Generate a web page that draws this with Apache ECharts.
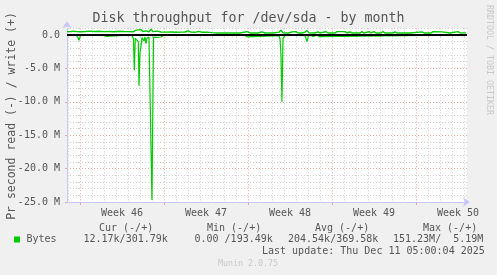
<!DOCTYPE html>
<html>
<head>
<meta charset="utf-8">
<script src="https://cdn.jsdelivr.net/npm/echarts@6/dist/echarts.min.js"></script>
<style>
html,body{margin:0;padding:0;background:#F0F0F0;}
#chart{width:497px;height:275px;}
</style>
</head>
<body>
<div id="chart"></div>
<script>
// x values: days since Monday 2025-11-10 00:00 (start of Week 46); y values in millions of bytes/s
const writeDays = [-1.08,-0.75,-0.50,-0.25,0.08,0.50,0.83,1.17,1.58,2.00,2.42,2.83,3.25,3.67,4.08,4.42,4.67,4.83,5.08,5.25,5.50,5.75,5.92,6.08,6.42,6.75,7.17,7.58,8.00,8.42,8.75,9.00,9.25,9.58,9.92,10.17,10.58,11.00,11.42,12.08,12.67,13.33,13.92,14.17,14.83,15.17,15.42,16.08,16.58,16.75,16.92,17.33,17.67,17.83,18.00,18.17,18.33,18.50,18.75,18.92,19.08,19.58,19.83,20.00,20.50,20.67,21.25,21.42,21.58,22.08,22.25,22.50,22.67,23.33,23.50,23.67,24.08,24.25,24.50,24.67,25.08,25.25,25.42,26.08,26.25,26.42,27.50,28.50,28.67,29.25,29.42,29.58,30.17,30.33,30.83,31.50,31.67,32.17];
const writeVals = [0.50,0.52,0.58,0.50,0.48,0.52,0.58,0.52,0.55,0.50,0.52,0.48,0.55,0.52,0.50,0.48,0.72,0.50,0.80,0.52,0.62,0.48,0.85,0.50,0.58,0.45,0.42,0.45,0.40,0.42,0.45,0.62,0.42,0.40,0.55,0.40,0.42,0.35,0.30,0.30,0.32,0.30,0.50,0.30,0.30,0.47,0.30,0.30,0.42,0.70,0.32,0.30,0.47,0.30,0.50,0.30,0.47,0.30,0.42,0.65,0.32,0.30,0.47,0.30,0.50,0.30,0.30,0.50,0.30,0.50,0.30,0.47,0.30,0.30,0.50,0.30,0.50,0.30,0.50,0.30,0.30,0.50,0.30,0.30,0.47,0.30,0.30,0.47,0.30,0.30,0.50,0.30,0.47,0.30,0.30,0.50,0.32,0.32];
const readDays = [-1.08,-0.33,-0.17,-0.08,0.04,0.33,2.00,2.17,2.33,4.33,4.46,4.53,4.61,4.75,4.86,4.92,5.00,5.08,5.17,5.25,5.33,5.42,5.50,5.58,5.75,5.88,6.00,6.13,6.25,6.42,6.58,6.75,6.92,7.50,10.42,10.58,10.75,13.75,13.92,14.08,16.58,16.67,16.75,16.83,16.92,17.08,17.25,17.33,17.46,18.75,18.83,18.92,19.04,19.25,19.42,19.58,19.75,19.92,20.08,32.17];
const readVals = [0,0,-0.35,-0.80,-0.10,0,0,-0.20,0,0,-0.60,-5.30,-0.50,-0.30,-1.00,-7.60,-2.60,-1.80,-0.40,-0.30,-0.90,-0.30,-1.30,-0.50,-0.30,-0.25,-24.70,-0.30,-0.20,-0.35,-0.15,-0.30,-0.10,0,0,-0.25,0,0,-0.28,0,-0.10,-0.60,-3.00,-10.00,-0.50,-0.10,0,-0.25,0,-0.10,-0.30,-1.00,-0.10,0,-0.25,0,0,-0.25,0,0];

const weekLabels = ['Week 46','Week 47','Week 48','Week 49','Week 50'];
const weekLabelPos = [3.5,10.5,17.5,24.5,31.5];
const weekStarts = [0,7,14,21,28];
const yLabelVals = [-25,-20,-15,-10,-5,0];

const legendHeaders = ['Cur (-/+)','Min (-/+)','Avg (-/+)','Max (-/+)'];
const legendValues = ['12.17k/301.79k','0.00 /193.49k','204.54k/369.58k','151.23M/  5.19M'];
const seriesName = 'Bytes';
const titleText = 'Disk throughput for /dev/sda - by month';
const yName = 'Pr second read (-) / write (+)';
const lastUpdate = 'Last update: Thu Dec 11 05:00:04 2025';
const footer = 'Munin 2.0.75';
const sideText = 'RRDTOOL / TOBI OETIKER';

const X_MIN = -1.08, X_MAX = 32.25, Y_MIN = -25, Y_MAX = 1;
const dayLines = [];
for (let d = -1; d <= 32; d++) if (d % 7 !== 0) dayLines.push(d);
const minorY = [];
for (let v = -24; v <= 1; v++) if (v % 5 !== 0) minorY.push(v);

const FONT = 'DejaVu Sans Mono';
const TXT = '#555555';
const GREEN = '#00CC00';
const AXIS = '#C8C8F8';
const RED = '#E8A8A8';
const GRAY = '#CFCFCF';

const chart = echarts.init(document.getElementById('chart'), null, {renderer:'canvas'});
const grid = {left:67, top:28.3, width:400, height:173.7, backgroundColor:'#FFFFFF', show:true, borderWidth:0,
  containLabel:false, outerBoundsMode:'none'};

function txt(x, y, s, extra) {
  return Object.assign({ type:'text', x:x, y:y, z:20,
    style:{text:s, font:'10px "' + FONT + '"', fill:TXT, textVerticalAlign:'middle'} }, extra || {});
}

const option = {
  backgroundColor:'#F0F0F0',
  animation:false,
  grid: grid,
  xAxis: [
    { type:'value', min:X_MIN, max:X_MAX, gridIndex:0, position:'bottom', z:1,
      axisLine:{show:false}, axisLabel:{show:false},
      axisTick:{show:true, customValues:dayLines, length:2, lineStyle:{color:GRAY}},
      splitLine:{show:true, lineStyle:{color:GRAY, type:[1,2], width:1}} },
    { type:'value', min:X_MIN, max:X_MAX, gridIndex:0, position:'bottom', z:2,
      axisLine:{show:true, onZero:false, lineStyle:{color:AXIS, width:1}, symbol:['none','arrow'], symbolSize:[7,7], symbolOffset:[0,3]},
      axisTick:{show:true, customValues:weekStarts, length:3, lineStyle:{color:RED}},
      axisLabel:{show:true, customValues:weekLabelPos, margin:6, fontFamily:FONT, fontSize:10, color:TXT,
        formatter:function(v){ const i = weekLabelPos.indexOf(v); return i >= 0 ? weekLabels[i] : ''; }},
      splitLine:{show:true, lineStyle:{color:RED, type:[1,2], width:1}} }
  ],
  yAxis: [
    { type:'value', min:Y_MIN, max:Y_MAX, gridIndex:0, position:'left', z:1,
      axisLine:{show:false}, axisLabel:{show:false},
      axisTick:{show:true, customValues:minorY, length:2, lineStyle:{color:GRAY}},
      splitLine:{show:true, lineStyle:{color:GRAY, type:[1,2], width:1}} },
    { type:'value', min:Y_MIN, max:Y_MAX, gridIndex:0, position:'left', z:2,
      axisLine:{show:true, onZero:false, lineStyle:{color:AXIS, width:1}, symbol:['none','arrow'], symbolSize:[7,7], symbolOffset:[0,7]},
      axisTick:{show:true, customValues:yLabelVals.filter(v=>v!==0), length:2, lineStyle:{color:RED}},
      axisLabel:{show:true, customValues:yLabelVals, margin:7, fontFamily:FONT, fontSize:10, color:TXT,
        formatter:function(v){ return v === 0 ? '0.0' : v.toFixed(1) + ' M'; }},
      splitLine:{show:true, lineStyle:{color:RED, type:[1,2], width:1}} }
  ],
  series: [
    { name:seriesName, type:'line', xAxisIndex:1, yAxisIndex:1, symbol:'none', z:5,
      lineStyle:{color:GREEN, width:1.4}, itemStyle:{color:GREEN},
      data: writeDays.map((d,i)=>[d, writeVals[i]]) },
    { name:seriesName, type:'line', xAxisIndex:1, yAxisIndex:1, symbol:'none', z:6,
      lineStyle:{color:GREEN, width:1.2}, itemStyle:{color:GREEN},
      data: readDays.map((d,i)=>[d, readVals[i]]) },
    { name:'zero', type:'line', xAxisIndex:1, yAxisIndex:1, symbol:'none', z:10,
      lineStyle:{opacity:0}, data:[[X_MIN,0]],
      markLine:{silent:true, symbol:'none', label:{show:false}, z:10,
        lineStyle:{color:'#000000', width:2, type:'solid'},
        data:[{yAxis:0}]} }
  ],
  graphic: [
    { type:'text', left:'center', top:12, z:20, style:{text:titleText, font:'13.3px "' + FONT + '"', fill:TXT} },
    { type:'text', x:12, y:116, rotation:Math.PI/2, z:20,
      style:{text:yName, font:'11.5px "' + FONT + '"', fill:TXT, textAlign:'center', textVerticalAlign:'middle'} },
    { type:'text', x:489, y:60, rotation:-Math.PI/2, z:20,
      style:{text:sideText, font:'8.3px "' + FONT + '"', fill:'#C8C8C8', textAlign:'center', textVerticalAlign:'middle'} },
    { type:'rect', z:20, shape:{x:14, y:236.5, width:6, height:6}, style:{fill:GREEN} },
    txt(26.5, 239.5, seriesName),
    txt(99, 228, legendHeaders[0]),
    txt(207, 228, legendHeaders[1]),
    txt(315, 228, legendHeaders[2]),
    txt(423, 228, legendHeaders[3]),
    txt(83.5, 239.5, legendValues[0]),
    txt(194.5, 239.5, legendValues[1]),
    txt(288, 239.5, legendValues[2]),
    txt(393, 239.5, legendValues[3]),
    txt(262, 251.7, lastUpdate),
    { type:'text', x:218, y:264.3, z:20, style:{text:footer, font:'8.3px "' + FONT + '"', fill:'#C8C8C8', textVerticalAlign:'middle'} }
  ]
};
chart.setOption(option);
</script>
</body>
</html>
